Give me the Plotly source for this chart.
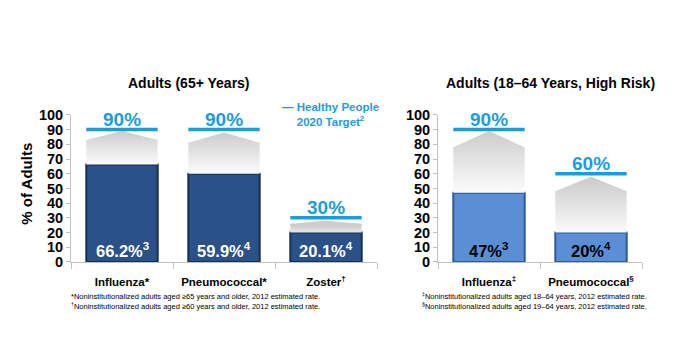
import plotly.graph_objects as go

W, H = 700, 353

# ---------------- data ----------------
left_categories = ["Influenza*", "Pneumococcal*", "Zoster<sup>†</sup>"]
left_values = [66.2, 59.9, 20.1]
left_labels = ["66.2%<sup>3</sup>", "59.9%<sup>4</sup>", "20.1%<sup>4</sup>"]
left_targets = [90, 90, 30]
left_gray_side = [83, 81, 26]
left_gray_peak = [89, 88, 28]

right_categories = ["Influenza<sup>‡</sup>", "Pneumococcal<sup>§</sup>"]
right_values = [47, 20]
right_labels = ["47%<sup>3</sup>", "20%<sup>4</sup>"]
right_targets = [90, 60]
right_gray_side = [78, 48]
right_gray_peak = [89, 58]

y_ticks = list(range(0, 101, 10))

left_title = "Adults (65+ Years)"
right_title = "Adults (18–64 Years, High Risk)"
y_title = "% of Adults"
legend_text = "— Healthy People<br>2020 Target<sup>2</sup>"
left_notes = ["*Noninstitutionalized adults aged ≥65 years and older, 2012 estimated rate.",
              "<sup>†</sup>Noninstitutionalized adults aged ≥60 years and older, 2012 estimated rate."]
right_notes = ["<sup>‡</sup>Noninstitutionalized adults aged 18–64 years, 2012 estimated rate.",
               "<sup>§</sup>Noninstitutionalized adults aged 19–64 years, 2012 estimated rate."]

# ---------------- style ----------------
FONT = "Liberation Sans"
BLUE_T = "#1b9ddb"
AX = "#bfbfbf"
BW = 0.70


def px(x):
    return x / W


def py(y):
    return 1 - y / H


fig = go.Figure()


def add_panel(xa, ya, cats, vals, labels, targets, gside, gpeak, bar_col, bar_line, lab_col):
    xs = list(range(len(cats)))
    # gray gradient "arrow" shapes
    for i in xs:
        hw = BW / 2
        fig.add_trace(go.Scatter(
            x=[i - hw, i - hw, i, i + hw, i + hw, i - hw],
            y=[vals[i], gside[i], gpeak[i], gside[i], vals[i], vals[i]],
            xaxis=xa, yaxis=ya, mode="lines", line=dict(width=0),
            fill="toself",
            fillgradient=dict(type="vertical",
                              colorscale=[[0, "rgba(255,255,255,1)"], [0.3, "#f0f0f0"], [1, "#cdcdcd"]],
                              start=vals[i], stop=gpeak[i]),
            hoverinfo="skip", showlegend=False))
    # bars
    fig.add_trace(go.Bar(
        x=xs, y=vals, width=BW, xaxis=xa, yaxis=ya,
        marker=dict(color=bar_col, line=dict(color=bar_line, width=2)),
        showlegend=False, hoverinfo="skip"))
    # target lines
    for i in xs:
        fig.add_trace(go.Scatter(
            x=[i - BW / 2, i + BW / 2], y=[targets[i], targets[i]],
            xaxis=xa, yaxis=ya, mode="lines",
            line=dict(color=BLUE_T, width=3.5),
            hoverinfo="skip", showlegend=False))
        fig.add_annotation(x=i, y=targets[i], xref=xa, yref=ya, yshift=10,
                           text="<b>%d%%</b>" % targets[i], showarrow=False,
                           xanchor="center", yanchor="middle",
                           font=dict(family=FONT, size=19, color=BLUE_T))
        fig.add_annotation(x=i, y=8, xref=xa, yref=ya,
                           text="<b>" + labels[i] + "</b>", showarrow=False,
                           xanchor="center", yanchor="middle",
                           font=dict(family=FONT, size=16.5, color=lab_col))


add_panel("x", "y", left_categories, left_values, left_labels, left_targets,
          left_gray_side, left_gray_peak, "#2b5189", "#162f57", "white")
add_panel("x2", "y2", right_categories, right_values, right_labels, right_targets,
          right_gray_side, right_gray_peak, "#5a8fd6", "#2d5b95", "black")

ydom = [py(266), py(112)]


def xaxis(cats, dom):
    n = len(cats)
    return dict(domain=dom, range=[-0.5, n - 0.5], showgrid=False, zeroline=False,
                showline=True, linecolor=AX, linewidth=1,
                tickmode="array", tickvals=list(range(n)),
                ticktext=[("<b>%s</b>" % c) for c in cats],
                ticks="", ticklabelstandoff=9,
                tickfont=dict(family=FONT, size=11.5, color="black"),
                minor=dict(tickmode="array", tickvals=[k - 0.5 for k in range(n + 1)],
                           ticks="outside", ticklen=6, tickcolor=AX, tickwidth=1),
                fixedrange=True)


def yaxis(anchor):
    return dict(domain=ydom, range=[0, 100], anchor=anchor, showgrid=False, zeroline=False,
                showline=True, linecolor=AX, linewidth=1,
                tickmode="array", tickvals=y_ticks, ticktext=["<b>%d</b>" % v for v in y_ticks],
                ticks="outside", ticklen=4, tickcolor=AX,
                tickfont=dict(family=FONT, size=14.5, color="black"),
                fixedrange=True)


fig.update_layout(
    width=W, height=H, margin=dict(l=0, r=0, t=0, b=0),
    paper_bgcolor="white", plot_bgcolor="rgba(0,0,0,0)",
    showlegend=False, barmode="overlay",
    xaxis=dict(**xaxis(left_categories, [px(71), px(377)]), anchor="y"),
    yaxis=yaxis("x"),
    xaxis2=dict(**xaxis(right_categories, [px(438), px(642)]), anchor="y2"),
    yaxis2=yaxis("x2"),
)


def txt(x, y, text, size, color="black", bold=True, xanchor="center", angle=0, align="center"):
    fig.add_annotation(x=px(x), y=py(y), xref="paper", yref="paper", showarrow=False,
                       xanchor=xanchor, yanchor="middle", textangle=angle, align=align,
                       text=("<b>%s</b>" % text) if bold else text,
                       font=dict(family=FONT, size=size, color=color))


txt(189, 79, left_title, 14)
txt(550, 79, right_title, 14)
txt(27, 184, y_title, 15, angle=-90)
txt(330, 112, legend_text, 11.5, color=BLUE_T)

for k, t in enumerate(left_notes):
    txt(69, 302 + 10 * k, t, 7.5, bold=False, xanchor="left")
for k, t in enumerate(right_notes):
    txt(420, 302 + 10 * k, t, 7.5, bold=False, xanchor="left")

fig.write_html("out.html")
